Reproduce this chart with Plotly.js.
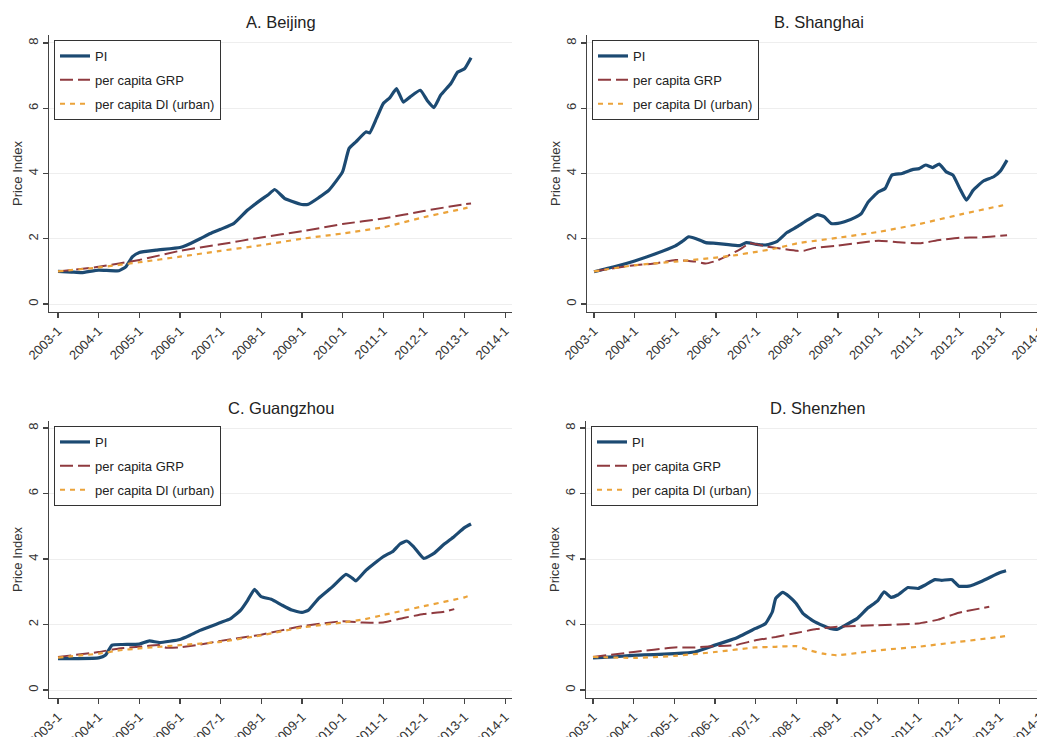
<!DOCTYPE html>
<html>
<head>
<meta charset="utf-8">
<script src="https://cdn.plot.ly/plotly-3.0.1.min.js"></script>
<style>
html,body{margin:0;padding:0;overflow:hidden;background:#fff;width:1037px;height:737px;}
#chart{width:1050px;height:737px;}
</style>
</head>
<body>
<div id="chart"></div>
<script>
// ---------- data ----------
const panelTitles = ["A. Beijing", "B. Shanghai", "C. Guangzhou", "D. Shenzhen"];
const seriesNames = ["PI", "per capita GRP", "per capita DI (urban)"];
const tickYears = [2003,2004,2005,2006,2007,2008,2009,2010,2011,2012,2013,2014];
const tickLabels = ["2003-1","2004-1","2005-1","2006-1","2007-1","2008-1","2009-1","2010-1","2011-1","2012-1","2013-1","2014-1"];
const yTicks = [0,2,4,6,8];

// Beijing
const bjPIx = ["2003-01","2003-05","2003-08","2004-01","2004-07","2004-09","2004-11","2005-01","2005-06","2006-01","2006-03","2006-07","2006-10","2007-01","2007-05","2007-09","2008-01","2008-03","2008-05","2008-08","2008-10","2009-01","2009-03","2009-06","2009-09","2010-01","2010-03","2010-05","2010-08","2010-09","2010-11","2011-01","2011-03","2011-05","2011-07","2011-09","2011-12","2012-02","2012-04","2012-06","2012-09","2012-11","2013-01","2013-03"];
const bjPI  = [1.00,0.98,0.96,1.04,1.02,1.14,1.45,1.58,1.65,1.73,1.80,2.00,2.16,2.29,2.47,2.88,3.20,3.34,3.51,3.23,3.15,3.05,3.06,3.26,3.49,4.05,4.77,4.97,5.28,5.24,5.68,6.14,6.32,6.60,6.19,6.35,6.55,6.24,6.02,6.40,6.76,7.11,7.21,7.55];
const bjGRPx = ["2003-01","2004-01","2005-01","2006-01","2007-01","2008-01","2009-01","2010-01","2011-01","2012-01","2013-01","2013-03"];
const bjGRP  = [1.00,1.14,1.35,1.63,1.83,2.04,2.23,2.45,2.62,2.85,3.06,3.08];
const bjDIx = ["2003-01","2004-01","2005-01","2006-01","2007-01","2008-01","2009-01","2010-01","2011-01","2012-01","2013-01","2013-03"];
const bjDI  = [1.00,1.12,1.28,1.45,1.63,1.80,2.00,2.16,2.35,2.66,2.93,2.98];

// Shanghai
const shPIx = ["2003-01","2003-07","2004-01","2004-07","2005-01","2005-03","2005-05","2005-07","2005-10","2006-01","2006-04","2006-08","2006-10","2007-01","2007-04","2007-07","2007-10","2008-01","2008-04","2008-07","2008-09","2008-11","2009-01","2009-03","2009-06","2009-08","2009-10","2010-01","2010-03","2010-05","2010-08","2010-11","2011-01","2011-03","2011-05","2011-07","2011-09","2011-11","2012-01","2012-03","2012-05","2012-08","2012-11","2013-01","2013-03"];
const shPI  = [0.99,1.14,1.32,1.53,1.78,1.91,2.06,2.01,1.88,1.86,1.83,1.79,1.88,1.83,1.81,1.91,2.19,2.37,2.57,2.74,2.67,2.47,2.47,2.52,2.65,2.78,3.13,3.44,3.54,3.95,4.00,4.12,4.15,4.26,4.18,4.29,4.05,3.95,3.54,3.18,3.49,3.77,3.90,4.08,4.41];
const shGRPx = ["2003-01","2004-01","2004-07","2005-01","2005-07","2005-10","2006-01","2006-04","2006-08","2006-11","2007-01","2007-04","2007-08","2008-01","2008-03","2008-06","2009-01","2010-01","2010-07","2011-01","2011-07","2012-01","2012-07","2013-01","2013-03"];
const shGRP  = [1.00,1.19,1.24,1.35,1.30,1.24,1.32,1.45,1.67,1.86,1.83,1.76,1.70,1.63,1.63,1.72,1.79,1.94,1.89,1.86,1.96,2.03,2.04,2.09,2.11];
const shDIx = ["2003-01","2004-01","2005-01","2006-01","2006-07","2007-01","2007-07","2008-01","2009-01","2010-01","2011-01","2012-01","2013-01","2013-03"];
const shDI  = [1.00,1.19,1.30,1.42,1.50,1.60,1.71,1.86,2.03,2.21,2.45,2.74,3.01,3.05];

// Guangzhou
const gzPIx = ["2003-01","2003-07","2004-01","2004-03","2004-05","2004-08","2005-01","2005-04","2005-07","2006-01","2006-04","2006-07","2007-01","2007-04","2007-07","2007-09","2007-11","2008-01","2008-04","2008-07","2008-10","2009-01","2009-03","2009-06","2009-10","2010-02","2010-04","2010-05","2010-08","2011-01","2011-04","2011-06","2011-08","2011-10","2012-01","2012-04","2012-07","2012-10","2013-01","2013-03"];
const gzPI  = [0.96,0.96,0.98,1.06,1.37,1.39,1.40,1.50,1.45,1.54,1.67,1.82,2.06,2.18,2.44,2.74,3.07,2.85,2.77,2.60,2.44,2.37,2.44,2.80,3.15,3.53,3.41,3.33,3.66,4.07,4.24,4.46,4.55,4.38,4.02,4.17,4.45,4.69,4.96,5.07];
const gzGRPx = ["2003-01","2004-01","2004-07","2005-01","2005-07","2005-09","2006-01","2006-07","2007-01","2008-01","2009-01","2010-01","2010-07","2011-01","2011-07","2012-01","2012-07","2012-10"];
const gzGRP  = [1.01,1.16,1.27,1.32,1.37,1.29,1.30,1.39,1.50,1.69,1.95,2.10,2.06,2.06,2.20,2.32,2.39,2.47];
const gzDIx = ["2003-01","2004-01","2004-07","2005-01","2006-01","2007-01","2008-01","2009-01","2010-01","2010-07","2011-01","2012-01","2013-01","2013-03"];
const gzDI  = [0.99,1.11,1.21,1.27,1.37,1.47,1.67,1.91,2.06,2.15,2.29,2.56,2.83,2.90];

// Shenzhen
const szPIx = ["2003-01","2003-07","2004-01","2004-07","2005-01","2005-07","2006-01","2006-07","2007-01","2007-04","2007-06","2007-07","2007-09","2007-11","2008-01","2008-03","2008-06","2008-09","2008-11","2009-01","2009-03","2009-07","2009-10","2010-01","2010-03","2010-05","2010-07","2010-10","2011-01","2011-03","2011-06","2011-08","2011-11","2012-01","2012-04","2012-08","2013-01","2013-03"];
const szPI  = [0.98,1.01,1.06,1.08,1.11,1.16,1.37,1.57,1.88,2.03,2.39,2.80,2.98,2.85,2.64,2.34,2.11,1.96,1.88,1.85,1.95,2.18,2.49,2.72,3.00,2.83,2.90,3.13,3.10,3.20,3.37,3.35,3.37,3.17,3.17,3.33,3.58,3.64];
const szGRPx = ["2003-01","2004-01","2005-01","2005-07","2006-01","2006-07","2007-01","2007-07","2008-01","2008-07","2009-01","2010-01","2011-01","2011-07","2012-01","2012-10"];
const szGRP  = [1.01,1.16,1.30,1.30,1.34,1.37,1.52,1.62,1.74,1.86,1.93,1.98,2.03,2.15,2.36,2.54];
const szDIx = ["2003-01","2004-01","2005-01","2006-01","2007-01","2007-07","2008-01","2008-05","2008-09","2009-01","2009-07","2010-01","2011-01","2012-01","2013-01","2013-03"];
const szDI  = [1.01,0.98,1.04,1.16,1.30,1.32,1.34,1.21,1.11,1.06,1.13,1.21,1.32,1.47,1.62,1.65];

// ---------- build ----------
const W = 1050, H = 737;
const FONT = "Arial, 'Liberation Sans', sans-serif";
const colors = ["#1c4a72", "#8f3a3f", "#eba33a"];
const widths = [3.2, 2, 2.2];
const dashes = ["solid", "13px,5px", "5px,5px"];

const panels = [
  {x:[bjPIx,bjGRPx,bjDIx], y:[bjPI,bjGRP,bjDI], left:49, top:35, bottom:312, x2003:58, yr:[-0.245,8.245]},
  {x:[shPIx,shGRPx,shDIx], y:[shPI,shGRP,shDI], left:587, top:35, bottom:312, x2003:594, yr:[-0.245,8.245]},
  {x:[gzPIx,gzGRPx,gzDIx], y:[gzPI,gzGRP,gzDI], left:49, top:421, bottom:698, x2003:58, yr:[-0.244,8.214]},
  {x:[szPIx,szGRPx,szDIx], y:[szPI,szGRP,szDI], left:586, top:421, bottom:698, x2003:593, yr:[-0.244,8.214]}
];
const plotW = 463, pxPerYear = 40.64;

function decToDate(d){
  const y = Math.floor(d);
  const ms = Date.UTC(y,0,1) + (d - y) * (Date.UTC(y+1,0,1) - Date.UTC(y,0,1));
  return new Date(ms).toISOString().slice(0,10);
}

const traces = [];
const layout = {
  width: W, height: H,
  margin: {l:0, r:0, t:0, b:0},
  paper_bgcolor: "#ffffff", plot_bgcolor: "#ffffff",
  font: {family: FONT, color: "#333333", size: 12},
  showlegend: true,
  annotations: []
};

panels.forEach((p, i) => {
  const n = i + 1;
  const xa = "x" + (n === 1 ? "" : n), ya = "y" + (n === 1 ? "" : n);
  const lg = n === 1 ? "legend" : "legend" + n;
  for (let s = 0; s < 3; s++) {
    traces.push({
      type: "scatter", mode: "lines",
      x: p.x[s], y: p.y[s],
      xaxis: xa, yaxis: ya,
      name: seriesNames[s],
      legend: lg, legendgroup: "g" + n + "_" + s,
      line: {color: colors[s], width: widths[s], dash: dashes[s], shape: "spline", smoothing: 0.4},
      hoverinfo: "skip"
    });
  }
  const leftYear = 2003 - (p.x2003 - p.left) / pxPerYear;
  const rightYear = leftYear + plotW / pxPerYear;
  const xKey = "xaxis" + (n === 1 ? "" : n), yKey = "yaxis" + (n === 1 ? "" : n);
  layout[xKey] = {
    domain: [p.left / W, (p.left + plotW) / W],
    anchor: ya, type: "date",
    range: [decToDate(leftYear), decToDate(rightYear)],
    tickmode: "array",
    tickvals: tickYears.map(y => y + "-01-01"),
    ticktext: tickLabels,
    tickangle: -45,
    ticks: "outside", ticklen: 5, tickwidth: 1.2, tickcolor: "#444",
    showline: true, linecolor: "#444", linewidth: 1.3,
    showgrid: false, zeroline: false,
    tickfont: {family: FONT, size: 13, color: "#333"},
    automargin: false, fixedrange: true
  };
  layout[yKey] = {
    domain: [(H - p.bottom) / H, (H - p.top) / H],
    anchor: xa,
    range: p.yr,
    tickmode: "array", tickvals: yTicks,
    tickangle: -90,
    ticks: "outside", ticklen: 5, tickwidth: 1.2, tickcolor: "#444",
    showline: true, linecolor: "#444", linewidth: 1.3,
    showgrid: true, gridcolor: "#eeeeee", gridwidth: 1,
    zeroline: false,
    tickfont: {family: FONT, size: 13, color: "#333"},
    title: {text: "Price Index", font: {family: FONT, size: 13, color: "#333"}, standoff: 0},
    automargin: false, fixedrange: true
  };
  layout[lg] = {
    x: (p.left + 5) / W, y: (H - p.top - 5) / H,
    xanchor: "left", yanchor: "top",
    bgcolor: "#ffffff", bordercolor: "#333333", borderwidth: 1,
    font: {family: FONT, size: 13, color: "#222"},
    tracegroupgap: 4, itemwidth: 30, traceorder: "grouped"
  };
  layout.annotations.push({
    text: panelTitles[i], xref: "paper", yref: "paper",
    x: (p.left + plotW / 2) / W, y: (H - p.top + 13) / H,
    xanchor: "center", yanchor: "middle", showarrow: false,
    font: {family: FONT, size: 16.5, color: "#222"}
  });
});

Plotly.newPlot("chart", traces, layout, {displayModeBar: false, staticPlot: true});
</script>
</body>
</html>
